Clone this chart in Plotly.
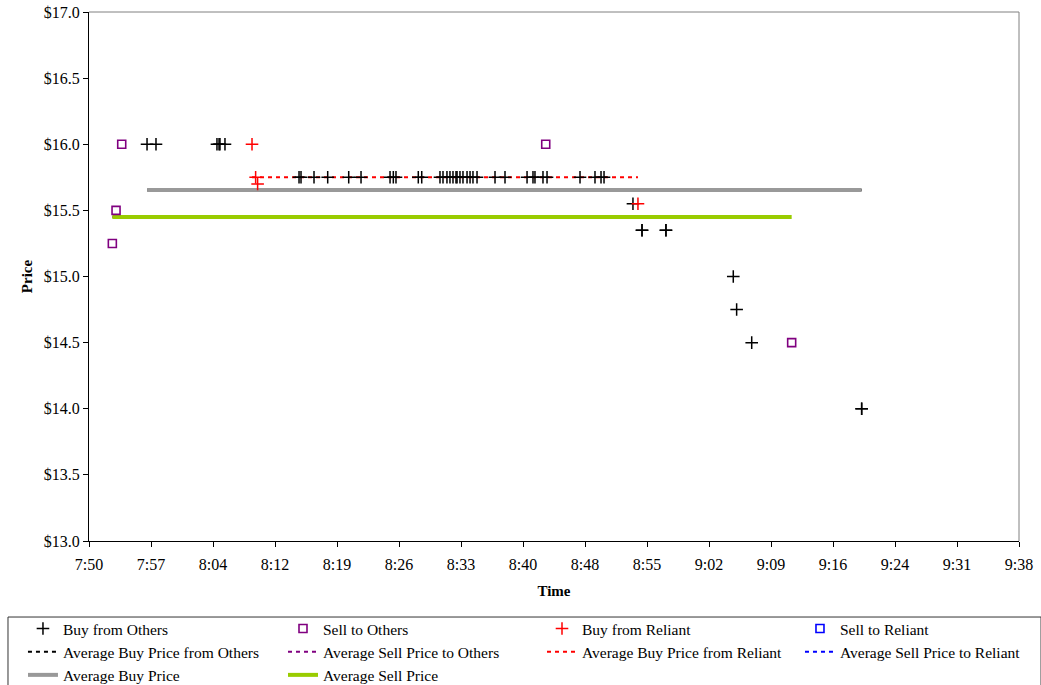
import plotly.graph_objects as go

# Times are minutes since midnight (7:50 = 470)
x_tick_vals = [470 + 7.2 * k for k in range(16)]
x_tick_text = ["7:50", "7:57", "8:04", "8:12", "8:19", "8:26", "8:33", "8:40",
               "8:48", "8:55", "9:02", "9:09", "9:16", "9:24", "9:31", "9:38"]

buy_others_time = [476.74, 477.78, 484.86, 485.10, 485.21, 485.79,
                   494.39, 494.62, 496.13, 497.72, 500.16, 501.59,
                   504.96, 505.34, 505.65, 508.24, 508.64,
                   510.76, 511.11, 511.57, 511.92, 512.27, 512.62, 512.74, 513.08,
                   513.43, 513.90, 514.25, 514.59, 515.06,
                   517.15, 518.31, 520.87, 521.56, 521.79, 522.72, 523.19,
                   527.02, 528.76, 529.46, 529.81,
                   533.17, 534.22, 534.22, 537.00, 537.00,
                   544.82, 545.21, 546.96, 559.73, 559.73]
buy_others_price = [16.0, 16.0, 16.0, 16.0, 16.0, 16.0,
                    15.75, 15.75, 15.75, 15.75, 15.75, 15.75,
                    15.75, 15.75, 15.75, 15.75, 15.75,
                    15.75, 15.75, 15.75, 15.75, 15.75, 15.75, 15.75, 15.75,
                    15.75, 15.75, 15.75, 15.75, 15.75,
                    15.75, 15.75, 15.75, 15.75, 15.75, 15.75, 15.75,
                    15.75, 15.75, 15.75, 15.75,
                    15.55, 15.35, 15.35, 15.35, 15.35,
                    15.0, 14.75, 14.5, 14.0, 14.0]

sell_others_time = [472.71, 473.14, 473.80, 523.04, 551.60]
sell_others_price = [15.25, 15.5, 16.0, 16.0, 14.5]

buy_reliant_time = [488.93, 489.35, 489.58, 533.75]
buy_reliant_price = [16.0, 15.75, 15.70, 15.55]

avg_buy_others_time = [476.74, 559.73]
avg_buy_others_price = [15.655, 15.655]
avg_sell_others_time = [472.71, 551.60]
avg_sell_others_price = [15.45, 15.45]
avg_buy_reliant_time = [488.93, 533.75]
avg_buy_reliant_price = [15.75, 15.75]
avg_buy_time = [476.74, 559.73]
avg_buy_price = [15.655, 15.655]
avg_sell_time = [472.71, 551.60]
avg_sell_price = [15.45, 15.45]

FONT = "Liberation Serif, Times New Roman, serif"
DASH = "4px,4px"
fig = go.Figure()

# Lines (drawn first so markers sit on top)
fig.add_trace(go.Scatter(x=avg_buy_others_time, y=avg_buy_others_price, mode="lines",
                         name="Average Buy Price from Others", legend="legend", legendrank=2,
                         line=dict(color="black", width=2, dash=DASH)))
fig.add_trace(go.Scatter(x=avg_sell_others_time, y=avg_sell_others_price, mode="lines",
                         name="Average Sell Price to Others", legend="legend2", legendrank=2,
                         line=dict(color="#800080", width=2, dash=DASH)))
fig.add_trace(go.Scatter(x=avg_buy_time, y=avg_buy_price, mode="lines",
                         name="Average Buy Price", legend="legend", legendrank=3,
                         line=dict(color="#999999", width=4)))
fig.add_trace(go.Scatter(x=avg_sell_time, y=avg_sell_price, mode="lines",
                         name="Average Sell Price", legend="legend2", legendrank=3,
                         line=dict(color="#99CC00", width=4)))
fig.add_trace(go.Scatter(x=avg_buy_reliant_time, y=avg_buy_reliant_price, mode="lines",
                         name="Average Buy Price from Reliant", legend="legend3", legendrank=2,
                         line=dict(color="#FF0000", width=2, dash=DASH)))
fig.add_trace(go.Scatter(x=[None], y=[None], mode="lines",
                         name="Average Sell Price to Reliant", legend="legend4", legendrank=2,
                         line=dict(color="#0000FF", width=2, dash=DASH)))

fig.add_trace(go.Scatter(x=buy_others_time, y=buy_others_price, mode="markers",
                         name="Buy from Others", legend="legend", legendrank=1,
                         marker=dict(symbol="cross-thin-open", size=9, color="black",
                                     line=dict(color="black", width=1.5))))
fig.add_trace(go.Scatter(x=sell_others_time, y=sell_others_price, mode="markers",
                         name="Sell to Others", legend="legend2", legendrank=1,
                         marker=dict(symbol="square-open", size=8, color="#800080",
                                     line=dict(color="#800080", width=1.6))))
fig.add_trace(go.Scatter(x=buy_reliant_time, y=buy_reliant_price, mode="markers",
                         name="Buy from Reliant", legend="legend3", legendrank=1,
                         marker=dict(symbol="cross-thin-open", size=9, color="#FF0000",
                                     line=dict(color="#FF0000", width=1.5))))
fig.add_trace(go.Scatter(x=[None], y=[None], mode="markers",
                         name="Sell to Reliant", legend="legend4", legendrank=1,
                         marker=dict(symbol="square-open", size=8, color="#0000FF",
                                     line=dict(color="#0000FF", width=1.6))))


def leg(xpos):
    return dict(orientation="v", x=xpos, y=-0.1342, xanchor="left", yanchor="top",
                traceorder="normal", font=dict(family=FONT, size=15.5, color="black"),
                bgcolor="rgba(0,0,0,0)", borderwidth=0)


fig.update_layout(
    width=1041, height=685,
    margin=dict(l=89, r=22, t=12, b=144, autoexpand=False),
    paper_bgcolor="white", plot_bgcolor="white",
    font=dict(family=FONT, size=15, color="black"),
    showlegend=True,
    legend=leg(-0.0710),
    legend2=leg(0.2086),
    legend3=leg(0.4871),
    legend4=leg(0.7645),
    xaxis=dict(range=[470, 578], tickmode="array", tickvals=x_tick_vals, ticktext=x_tick_text,
               showgrid=False, zeroline=False, showline=True, linecolor="black", linewidth=1,
               ticks="outside", ticklen=5, tickcolor="black", ticklabelstandoff=4,
               tickfont=dict(family=FONT, size=16),
               title=dict(text="<b>Time</b>", standoff=13, font=dict(family=FONT, size=15))),
    yaxis=dict(range=[13, 17], dtick=0.5, tick0=13, tickprefix="$", tickformat=".1f",
               showgrid=False, zeroline=False, showline=True, linecolor="black", linewidth=1,
               ticks="outside", ticklen=5, tickcolor="black",
               tickfont=dict(family=FONT, size=16),
               title=dict(text="<b>Price</b>", standoff=7, font=dict(family=FONT, size=15))),
    shapes=[
        dict(type="line", xref="paper", yref="paper", x0=0, x1=1, y0=1, y1=1,
             line=dict(color="#808080", width=1)),
        dict(type="line", xref="paper", yref="paper", x0=1, x1=1, y0=0, y1=1,
             line=dict(color="#808080", width=1)),
        dict(type="rect", xref="paper", yref="paper", x0=-0.0871, x1=1.0237,
             y0=-0.1437, y1=-0.30, line=dict(color="#333333", width=1)),
    ],
)

fig.write_html("out.html", config={"displayModeBar": False},
               post_script="document.body.style.margin='0';")
